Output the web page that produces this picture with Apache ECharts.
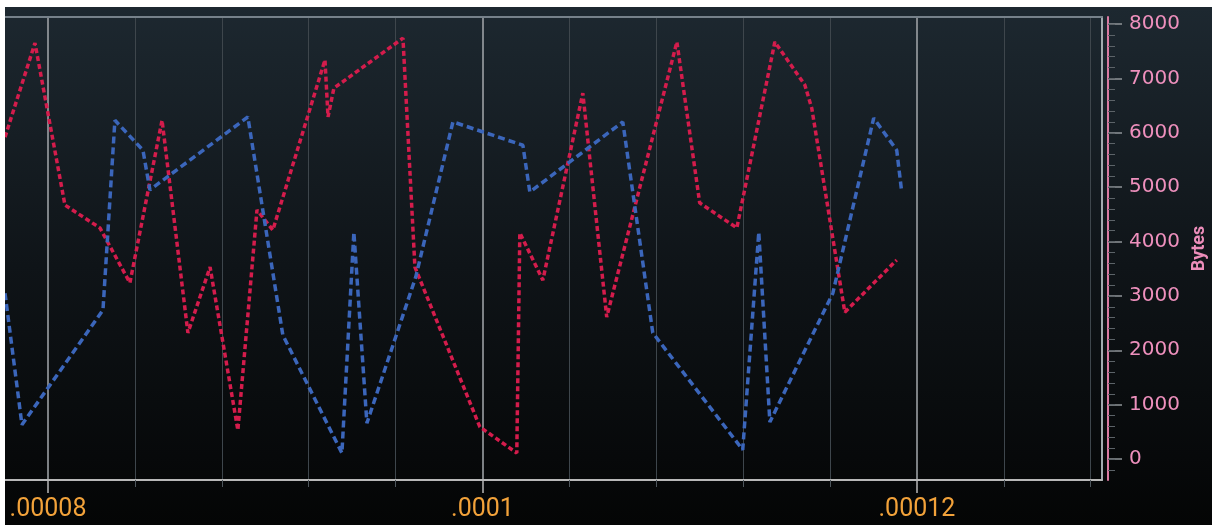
<!DOCTYPE html>
<html>
<head>
<meta charset="utf-8">
<script src="https://cdn.jsdelivr.net/npm/echarts@6/dist/echarts.min.js"></script>
<style>
  html, body { margin: 0; padding: 0; background: #ffffff; }
  #chart { position: absolute; left: 5px; top: 7px; width: 1207px; height: 518px; }
</style>
</head>
<body>
<div id="chart"></div>
<script>
// time in seconds, bytes
var redTimes = [78.02e-6, 79.40e-6, 80.78e-6, 82.39e-6, 83.77e-6, 85.25e-6, 86.44e-6, 87.46e-6, 88.74e-6, 89.62e-6,
    90.35e-6, 92.75e-6, 92.89e-6, 93.16e-6, 96.34e-6, 96.89e-6, 99.88e-6, 101.58e-6, 101.72e-6, 102.78e-6,
    104.62e-6, 105.72e-6, 108.95e-6, 110.00e-6, 111.71e-6, 113.46e-6, 114.84e-6, 115.16e-6, 116.68e-6, 119.07e-6];
var redBytes = [5920, 7650, 4670, 4250, 3240, 6230, 2320, 3530, 530, 4580,
    4210, 7340, 6290, 6820, 7740, 3530, 590, 110, 4160, 3290,
    6730, 2610, 7670, 4710, 4250, 7670, 6880, 6450, 2700, 3660];

var blueTimes = [78.02e-6, 78.80e-6, 82.53e-6, 83.08e-6, 84.37e-6, 84.69e-6, 89.20e-6, 90.81e-6, 93.53e-6, 94.08e-6,
    94.68e-6, 96.93e-6, 98.64e-6, 101.86e-6, 102.18e-6, 106.46e-6, 107.84e-6, 111.98e-6, 112.72e-6, 113.23e-6,
    116.13e-6, 118.01e-6, 119.07e-6, 119.30e-6];
var blueBytes = [3050, 630, 2740, 6230, 5680, 4950, 6290, 2280, 110, 4170,
    660, 3350, 6200, 5770, 4910, 6200, 2320, 170, 4170, 680,
    3050, 6270, 5680, 4910];

var xMajor = [80e-6, 100e-6, 120e-6];
var xMinor = [84e-6, 88e-6, 92e-6, 96e-6, 104e-6, 108e-6, 112e-6, 116e-6, 124e-6, 128e-6];
var yMajor = [0, 1000, 2000, 3000, 4000, 5000, 6000, 7000, 8000];
var yMinor = [];
for (var v = -200; v <= 8000; v += 200) yMinor.push(v);

function pairs(xs, ys) {
    return xs.map(function (x, i) { return [x, ys[i]]; });
}

var xMin = 78.02e-6, xMax = 128.52e-6;
var yMin = -386, yMax = 8129;

var chart = echarts.init(document.getElementById('chart'));
var option = {
    animation: false,
    backgroundColor: new echarts.graphic.LinearGradient(0, 0, 0, 1, [
        { offset: 0, color: '#1d2830' },
        { offset: 0.5, color: '#0f1418' },
        { offset: 1, color: '#040505' }
    ]),
    grid: {
        left: 0, top: 10, right: 110, bottom: 45,
        outerBoundsMode: 'none',
        containLabel: false
    },
    xAxis: [
        {
            type: 'value', min: xMin, max: xMax, position: 'bottom',
            axisLine: { onZero: false, lineStyle: { color: '#b8b8b8', width: 2 } },
            axisTick: { customValues: xMajor, length: 13, lineStyle: { color: '#b8b8b8', width: 1.5 } },
            axisLabel: {
                customValues: xMajor,
                color: '#f2a23a', fontSize: 25, fontFamily: 'Roboto', margin: 17,
                formatter: function (val) { return String(+val.toFixed(7)).replace(/^0/, ''); }
            },
            splitLine: { show: true, lineStyle: { color: '#a4a9ad', width: 1.5 } }
        },
        {
            type: 'value', min: xMin, max: xMax, position: 'bottom',
            axisLine: { show: false, onZero: false },
            axisTick: { customValues: xMinor, length: 7, lineStyle: { color: '#4e565c' } },
            axisLabel: { show: false },
            splitLine: { show: true, lineStyle: { color: '#3e464c', width: 1 } }
        },
        {
            // top border of the plot
            type: 'value', min: xMin, max: xMax, position: 'top',
            axisLine: { show: true, onZero: false, lineStyle: { color: '#76818a', width: 2 } },
            axisTick: { show: false },
            axisLabel: { show: false },
            splitLine: { show: false }
        }
    ],
    yAxis: [
        {
            type: 'value', min: yMin, max: yMax, position: 'right', offset: 6,
            name: 'Bytes', nameLocation: 'middle', nameRotate: 90, nameGap: 80,
            nameTextStyle: { color: '#ec8dba', fontSize: 18, fontWeight: 'bold', fontFamily: 'Roboto' },
            axisLine: { show: true, onZero: false, lineStyle: { color: '#d97aa2', width: 2 } },
            axisTick: { customValues: yMajor, length: 14, lineStyle: { color: '#8e9498', width: 1.5 } },
            axisLabel: {
                customValues: yMajor,
                color: '#ee90bd', fontSize: 20, fontFamily: 'DejaVu Sans', margin: 21,
                formatter: function (val) { return String(val); }
            },
            splitLine: { show: false }
        },
        {
            type: 'value', min: yMin, max: yMax, position: 'right', offset: 6,
            axisLine: { show: false, onZero: false },
            axisTick: { customValues: yMinor, length: 7, lineStyle: { color: '#5c6368' } },
            axisLabel: { show: false },
            splitLine: { show: false }
        },
        {
            // right border of the plot
            type: 'value', min: yMin, max: yMax, position: 'right', offset: 0,
            axisLine: { show: true, onZero: false, lineStyle: { color: '#a3abb0', width: 2 } },
            axisTick: { show: false },
            axisLabel: { show: false },
            splitLine: { show: false }
        }
    ],
    series: [
        {
            name: 'red', type: 'line', showSymbol: false,
            data: pairs(redTimes, redBytes),
            lineStyle: { color: '#d41c4c', width: 3.5, type: [5, 3] }
        },
        {
            name: 'blue', type: 'line', showSymbol: false,
            data: pairs(blueTimes, blueBytes),
            lineStyle: { color: '#3b66bb', width: 3.5, type: [7, 4] }
        }
    ]
};
chart.setOption(option);
window.addEventListener('resize', function () {
    chart.resize();
});
</script>
</body>
</html>
